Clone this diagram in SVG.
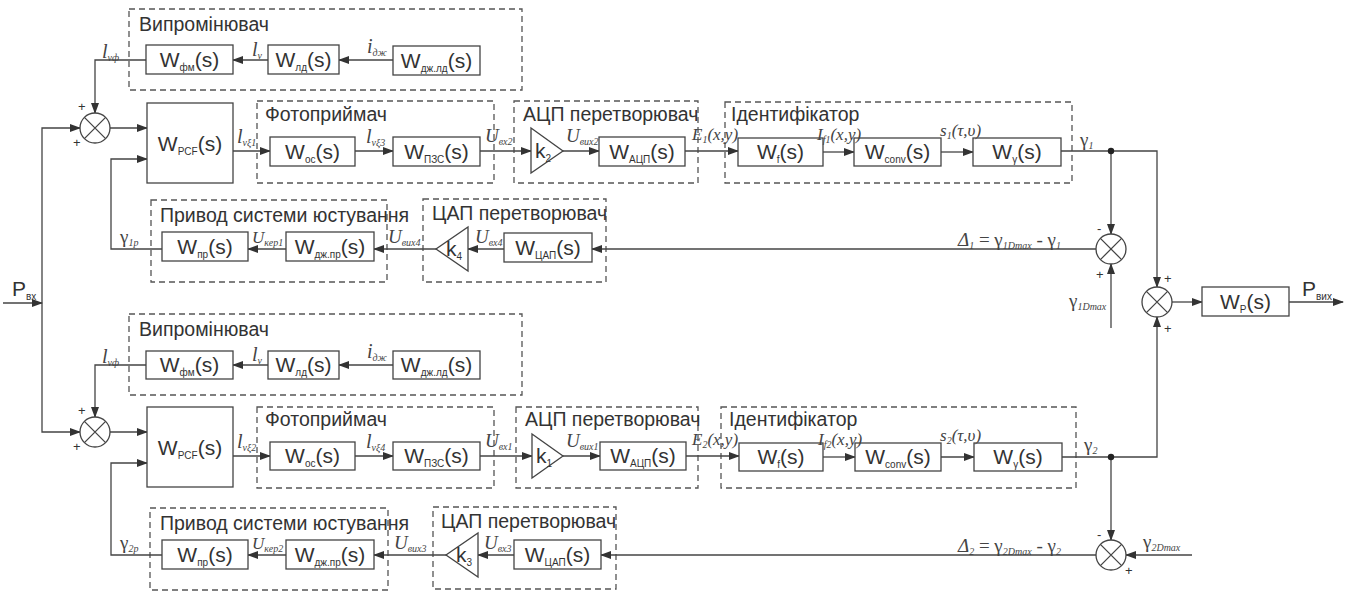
<svg xmlns="http://www.w3.org/2000/svg" width="1355" height="592" viewBox="0 0 1355 592">
<style>
.box{fill:#fff;stroke:#444;stroke-width:1.3}
.grp{fill:none;stroke:#555;stroke-width:1.3;stroke-dasharray:6 4}
.ln{fill:none;stroke:#444;stroke-width:1.3}
.ar{marker-end:url(#ah)}
.t{font-family:"Liberation Sans",Arial,sans-serif;font-size:21px;fill:#333}
.ti{font-family:"Liberation Sans",Arial,sans-serif;font-size:19.5px;fill:#333}
.s{font-size:10px}
.sig{font-family:"Liberation Serif","Times New Roman",serif;font-style:italic;font-size:17px;fill:#444}
.big{font-size:20px}
.mid{font-size:19px}
.up{font-style:normal}
.ss{font-size:10px}
.pm{font-family:"Liberation Sans",Arial,sans-serif;font-size:13px;fill:#333}
.tri{fill:#fff;stroke:#444;stroke-width:1.3}
</style>
<defs>
<marker id="ah" markerWidth="11" markerHeight="8" refX="10" refY="4" orient="auto" markerUnits="userSpaceOnUse"><path d="M0,0 L11,4 L0,8 z" fill="#333"/></marker>
<g id="sum"><circle r="15" fill="#fff" stroke="#444" stroke-width="1.3"/><path d="M-10.6,-10.6 L10.6,10.6 M-10.6,10.6 L10.6,-10.6" stroke="#444" stroke-width="1.3"/></g>
</defs>

<!-- ===== groups (dashed) ===== -->
<g id="g-emitter1"><rect class="grp" x="129" y="9" width="393" height="81"/><text class="ti" x="139" y="31">Випромінювач</text></g>
<g id="g-photo1"><rect class="grp" x="257" y="101" width="237" height="82"/><text class="ti" x="265" y="121">Фотоприймач</text></g>
<g id="g-adc1"><rect class="grp" x="514" y="101" width="184" height="82"/><text class="ti" x="523" y="121">АЦП перетворювач</text></g>
<g id="g-ident1"><rect class="grp" x="725" y="102" width="347" height="81"/><text class="ti" x="731" y="121">Ідентифікатор</text></g>
<g id="g-dac1"><rect class="grp" x="423" y="199" width="183" height="83"/><text class="ti" x="432" y="220">ЦАП перетворювач</text></g>
<g id="g-drive1"><rect class="grp" x="151" y="200" width="236" height="82"/><text class="ti" x="160" y="222">Привод системи юстування</text></g>

<g id="g-emitter2"><rect class="grp" x="129" y="314" width="393" height="81"/><text class="ti" x="139" y="336">Випромінювач</text></g>
<g id="g-photo2"><rect class="grp" x="257" y="407" width="237" height="81"/><text class="ti" x="265" y="426">Фотоприймач</text></g>
<g id="g-adc2"><rect class="grp" x="516" y="407" width="182" height="81"/><text class="ti" x="525" y="426">АЦП перетворювач</text></g>
<g id="g-ident2"><rect class="grp" x="721" y="407" width="355" height="81"/><text class="ti" x="729" y="426">Ідентифікатор</text></g>
<g id="g-dac2"><rect class="grp" x="433" y="507" width="183" height="82"/><text class="ti" x="441" y="528">ЦАП перетворювач</text></g>
<g id="g-drive2"><rect class="grp" x="150" y="508" width="238" height="82"/><text class="ti" x="160" y="530">Привод системи юстування</text></g>

<!-- ===== connectors ===== -->
<g id="connectors">
<path class="ln ar" d="M393,60 H339"/>
<path class="ln ar" d="M268,60 H233"/>
<path class="ln ar" d="M146,60 H95 V113"/>
<path class="ln ar" d="M3,303 H42"/>
<path class="ln ar" d="M42,303 V128 H80"/>
<path class="ln ar" d="M42,303 V432 H80"/>
<path class="ln ar" d="M110,128 H147"/>
<path class="ln ar" d="M233,151 H270"/>
<path class="ln ar" d="M355,151 H393"/>
<path class="ln ar" d="M480,151 H531"/>
<path class="ln ar" d="M563,151 H599"/>
<path class="ln ar" d="M685,151 H738"/>
<path class="ln ar" d="M823,152 H854"/>
<path class="ln ar" d="M941,152 H973"/>
<path class="ln ar" d="M1061,151 H1157 V287"/>
<path class="ln ar" d="M1111,151 V234"/>
<path class="ln ar" d="M1111,328 V264"/>
<path class="ln ar" d="M1096,249 H592"/>
<path class="ln ar" d="M504,249 H468"/>
<path class="ln ar" d="M436,249 H374"/>
<path class="ln ar" d="M286,249 H248"/>
<path class="ln ar" d="M162,249 H111 V159 H147"/>
<path class="ln ar" d="M1172,302 H1202"/>
<path class="ln ar" d="M1289,302 H1343"/>
<circle cx="1111" cy="151" r="3.2" fill="#222"/>
<path class="ln ar" d="M393,365 H339"/>
<path class="ln ar" d="M268,365 H233"/>
<path class="ln ar" d="M146,365 H95 V417"/>
<path class="ln ar" d="M110,432 H147"/>
<path class="ln ar" d="M233,456 H270"/>
<path class="ln ar" d="M355,456 H393"/>
<path class="ln ar" d="M480,456 H532"/>
<path class="ln ar" d="M563,456 H600"/>
<path class="ln ar" d="M686,456 H739"/>
<path class="ln ar" d="M823,457 H855"/>
<path class="ln ar" d="M941,457 H974"/>
<path class="ln ar" d="M1062,457 H1157 V317"/>
<path class="ln ar" d="M1111,457 V540"/>
<path class="ln ar" d="M1192,555 H1126"/>
<path class="ln ar" d="M1096,555 H601"/>
<path class="ln ar" d="M514,555 H478"/>
<path class="ln ar" d="M446,555 H374"/>
<path class="ln ar" d="M286,555 H248"/>
<path class="ln ar" d="M162,555 H111 V463 H147"/>
<circle cx="1111" cy="457" r="3.2" fill="#222"/>
</g>

<!-- ===== summing junctions ===== -->
<g id="sum1"><use href="#sum" x="95" y="128"/><text class="pm" x="78" y="111">+</text><text class="pm" x="73" y="147">+</text></g>
<g id="sum2"><use href="#sum" x="95" y="432"/><text class="pm" x="78" y="415">+</text><text class="pm" x="73" y="451">+</text></g>
<g id="sumD1"><use href="#sum" x="1111" y="249"/><text class="pm" x="1097" y="233">-</text><text class="pm" x="1096" y="279">+</text></g>
<g id="sumD2"><use href="#sum" x="1111" y="555"/><text class="pm" x="1097" y="539">-</text><text class="pm" x="1125" y="575">+</text></g>
<g id="sumOut"><use href="#sum" x="1157" y="302"/><text class="pm" x="1164" y="283">+</text><text class="pm" x="1164" y="333">+</text></g>

<!-- ===== blocks top ===== -->
<g id="b-fm1"><rect class="box" x="146" y="45" width="87" height="29"/><text class="t" x="189.5" y="67" text-anchor="middle">W<tspan class="s" dy="4">фм</tspan><tspan dy="-4">(s)</tspan></text></g>
<g id="b-ld1"><rect class="box" x="268" y="45" width="71" height="29"/><text class="t" x="303.5" y="67" text-anchor="middle">W<tspan class="s" dy="4">лд</tspan><tspan dy="-4">(s)</tspan></text></g>
<g id="b-djld1"><rect class="box" x="393" y="46" width="87" height="29"/><text class="t" x="436.5" y="68" text-anchor="middle">W<tspan class="s" dy="4">дж.лд</tspan><tspan dy="-4">(s)</tspan></text></g>
<g id="b-pcf1"><rect class="box" x="147" y="103" width="86" height="80"/><text class="t" x="190" y="151" text-anchor="middle">W<tspan class="s" dy="4">PCF</tspan><tspan dy="-4">(s)</tspan></text></g>
<g id="b-os1"><rect class="box" x="270" y="137" width="85" height="29"/><text class="t" x="312.5" y="159" text-anchor="middle">W<tspan class="s" dy="4">ос</tspan><tspan dy="-4">(s)</tspan></text></g>
<g id="b-pzs1"><rect class="box" x="393" y="137" width="87" height="29"/><text class="t" x="436.5" y="159" text-anchor="middle">W<tspan class="s" dy="4">ПЗС</tspan><tspan dy="-4">(s)</tspan></text></g>
<g id="b-k2"><path class="tri" d="M531,128 L531,173 L563,151 z"/><text class="t" x="535" y="158">k<tspan class="s" dy="4">2</tspan></text></g>
<g id="b-adc1"><rect class="box" x="599" y="137" width="86" height="29"/><text class="t" x="642" y="159" text-anchor="middle">W<tspan class="s" dy="4">АЦП</tspan><tspan dy="-4">(s)</tspan></text></g>
<g id="b-f1"><rect class="box" x="738" y="138" width="85" height="28"/><text class="t" x="780.5" y="159" text-anchor="middle">W<tspan class="s" dy="4">f</tspan><tspan dy="-4">(s)</tspan></text></g>
<g id="b-conv1"><rect class="box" x="854" y="138" width="87" height="28"/><text class="t" x="897.5" y="159" text-anchor="middle">W<tspan class="s" dy="4">conv</tspan><tspan dy="-4">(s)</tspan></text></g>
<g id="b-g1"><rect class="box" x="973" y="138" width="88" height="28"/><text class="t" x="1017" y="159" text-anchor="middle">W<tspan class="s" dy="4">γ</tspan><tspan dy="-4">(s)</tspan></text></g>
<g id="b-dac1"><rect class="box" x="504" y="233" width="88" height="29"/><text class="t" x="548" y="255" text-anchor="middle">W<tspan class="s" dy="4">ЦАП</tspan><tspan dy="-4">(s)</tspan></text></g>
<g id="b-k4"><path class="tri" d="M468,227 L468,271 L436,249 z"/><text class="t" x="446" y="256">k<tspan class="s" dy="4">4</tspan></text></g>
<g id="b-djpr1"><rect class="box" x="286" y="232" width="88" height="29"/><text class="t" x="330" y="254" text-anchor="middle">W<tspan class="s" dy="4">дж.пр</tspan><tspan dy="-4">(s)</tspan></text></g>
<g id="b-pr1"><rect class="box" x="162" y="232" width="86" height="29"/><text class="t" x="205" y="254" text-anchor="middle">W<tspan class="s" dy="4">пр</tspan><tspan dy="-4">(s)</tspan></text></g>
<g id="b-p"><rect class="box" x="1202" y="287" width="87" height="29"/><text class="t" x="1245.5" y="309" text-anchor="middle">W<tspan class="s" dy="4">P</tspan><tspan dy="-4">(s)</tspan></text></g>

<!-- ===== blocks bottom ===== -->
<g id="b-fm2"><rect class="box" x="146" y="351" width="87" height="28"/><text class="t" x="189.5" y="372" text-anchor="middle">W<tspan class="s" dy="4">фм</tspan><tspan dy="-4">(s)</tspan></text></g>
<g id="b-ld2"><rect class="box" x="268" y="351" width="71" height="28"/><text class="t" x="303.5" y="372" text-anchor="middle">W<tspan class="s" dy="4">лд</tspan><tspan dy="-4">(s)</tspan></text></g>
<g id="b-djld2"><rect class="box" x="393" y="351" width="87" height="28"/><text class="t" x="436.5" y="372" text-anchor="middle">W<tspan class="s" dy="4">дж.лд</tspan><tspan dy="-4">(s)</tspan></text></g>
<g id="b-pcf2"><rect class="box" x="147" y="407" width="86" height="80"/><text class="t" x="190" y="455" text-anchor="middle">W<tspan class="s" dy="4">PCF</tspan><tspan dy="-4">(s)</tspan></text></g>
<g id="b-os2"><rect class="box" x="270" y="442" width="85" height="28"/><text class="t" x="312.5" y="463" text-anchor="middle">W<tspan class="s" dy="4">ос</tspan><tspan dy="-4">(s)</tspan></text></g>
<g id="b-pzs2"><rect class="box" x="393" y="442" width="87" height="28"/><text class="t" x="436.5" y="463" text-anchor="middle">W<tspan class="s" dy="4">ПЗС</tspan><tspan dy="-4">(s)</tspan></text></g>
<g id="b-k1"><path class="tri" d="M532,434 L532,478 L563,456 z"/><text class="t" x="536" y="463">k<tspan class="s" dy="4">1</tspan></text></g>
<g id="b-adc2"><rect class="box" x="600" y="442" width="86" height="28"/><text class="t" x="643" y="463" text-anchor="middle">W<tspan class="s" dy="4">АЦП</tspan><tspan dy="-4">(s)</tspan></text></g>
<g id="b-f2"><rect class="box" x="739" y="443" width="84" height="28"/><text class="t" x="781" y="464" text-anchor="middle">W<tspan class="s" dy="4">f</tspan><tspan dy="-4">(s)</tspan></text></g>
<g id="b-conv2"><rect class="box" x="855" y="443" width="86" height="28"/><text class="t" x="898" y="464" text-anchor="middle">W<tspan class="s" dy="4">conv</tspan><tspan dy="-4">(s)</tspan></text></g>
<g id="b-g2"><rect class="box" x="974" y="443" width="88" height="28"/><text class="t" x="1018" y="464" text-anchor="middle">W<tspan class="s" dy="4">γ</tspan><tspan dy="-4">(s)</tspan></text></g>
<g id="b-dac2"><rect class="box" x="514" y="540" width="87" height="29"/><text class="t" x="557.5" y="562" text-anchor="middle">W<tspan class="s" dy="4">ЦАП</tspan><tspan dy="-4">(s)</tspan></text></g>
<g id="b-k3"><path class="tri" d="M478,533 L478,577 L446,555 z"/><text class="t" x="456" y="562">k<tspan class="s" dy="4">3</tspan></text></g>
<g id="b-djpr2"><rect class="box" x="286" y="540" width="88" height="29"/><text class="t" x="330" y="562" text-anchor="middle">W<tspan class="s" dy="4">дж.пр</tspan><tspan dy="-4">(s)</tspan></text></g>
<g id="b-pr2"><rect class="box" x="162" y="540" width="86" height="29"/><text class="t" x="205" y="562" text-anchor="middle">W<tspan class="s" dy="4">пр</tspan><tspan dy="-4">(s)</tspan></text></g>

<!-- ===== signal labels ===== -->
<g id="labels">
<text class="t" x="12" y="296">P<tspan class="s" dy="4">вх</tspan></text>
<text class="t" x="1302" y="296">P<tspan class="s" dy="4">вих</tspan></text>
<text class="sig big" x="102" y="58">l<tspan class="ss" dy="3">vф</tspan></text>
<text class="sig big" x="252" y="56">l<tspan class="ss" dy="3">v</tspan></text>
<text class="sig big" x="367" y="53">i<tspan class="ss" dy="3">дж</tspan></text>
<text class="sig big" x="237" y="143">l<tspan class="ss" dy="3">vξ1</tspan></text>
<text class="sig big" x="366" y="143">l<tspan class="ss" dy="3">vξ3</tspan></text>
<text class="sig mid" x="485" y="142">U<tspan class="ss" dy="3">вх2</tspan></text>
<text class="sig mid" x="566" y="142">U<tspan class="ss" dy="3">вих2</tspan></text>
<text class="sig" x="692" y="140">E<tspan class="ss" dy="3">1</tspan><tspan dy="-3">(x,y)</tspan></text>
<text class="sig" x="817" y="140">I<tspan class="ss" dy="3">f1</tspan><tspan dy="-3">(x,y)</tspan></text>
<text class="sig" x="940" y="136">s<tspan class="ss" dy="3">1</tspan><tspan dy="-3">(τ,υ)</tspan></text>
<text class="sig mid" x="1080" y="146"><tspan class="up">γ</tspan><tspan class="ss" dy="3">1</tspan></text>
<text class="sig mid" x="958" y="246">Δ<tspan class="ss" dy="3">1</tspan><tspan class="up" dy="-3"> = γ</tspan><tspan class="ss" dy="3">1Dmax</tspan><tspan class="up" dy="-3"> - γ</tspan><tspan class="ss" dy="3">1</tspan></text>
<text class="sig mid" x="1069" y="307"><tspan class="up">γ</tspan><tspan class="ss" dy="3">1Dmax</tspan></text>
<text class="sig mid" x="475" y="243">U<tspan class="ss" dy="3">вх4</tspan></text>
<text class="sig mid" x="388" y="243">U<tspan class="ss" dy="3">вих4</tspan></text>
<text class="sig" x="252" y="243">U<tspan class="ss" dy="3">кер1</tspan></text>
<text class="sig mid" x="120" y="243"><tspan class="up">γ</tspan><tspan class="ss" dy="3">1p</tspan></text>

<text class="sig big" x="102" y="363">l<tspan class="ss" dy="3">vф</tspan></text>
<text class="sig big" x="252" y="361">l<tspan class="ss" dy="3">v</tspan></text>
<text class="sig big" x="367" y="358">i<tspan class="ss" dy="3">дж</tspan></text>
<text class="sig big" x="237" y="448">l<tspan class="ss" dy="3">vξ2</tspan></text>
<text class="sig big" x="366" y="448">l<tspan class="ss" dy="3">vξ4</tspan></text>
<text class="sig mid" x="485" y="447">U<tspan class="ss" dy="3">вх1</tspan></text>
<text class="sig mid" x="566" y="447">U<tspan class="ss" dy="3">вих1</tspan></text>
<text class="sig" x="692" y="445">E<tspan class="ss" dy="3">2</tspan><tspan dy="-3">(x,y)</tspan></text>
<text class="sig" x="818" y="445">I<tspan class="ss" dy="3">f2</tspan><tspan dy="-3">(x,y)</tspan></text>
<text class="sig" x="940" y="441">s<tspan class="ss" dy="3">2</tspan><tspan dy="-3">(τ,υ)</tspan></text>
<text class="sig mid" x="1084" y="451"><tspan class="up">γ</tspan><tspan class="ss" dy="3">2</tspan></text>
<text class="sig mid" x="958" y="552">Δ<tspan class="ss" dy="3">2</tspan><tspan class="up" dy="-3"> = γ</tspan><tspan class="ss" dy="3">2Dmax</tspan><tspan class="up" dy="-3"> - γ</tspan><tspan class="ss" dy="3">2</tspan></text>
<text class="sig mid" x="1143" y="548"><tspan class="up">γ</tspan><tspan class="ss" dy="3">2Dmax</tspan></text>
<text class="sig mid" x="484" y="549">U<tspan class="ss" dy="3">вх3</tspan></text>
<text class="sig mid" x="394" y="549">U<tspan class="ss" dy="3">вих3</tspan></text>
<text class="sig" x="252" y="549">U<tspan class="ss" dy="3">кер2</tspan></text>
<text class="sig mid" x="120" y="549"><tspan class="up">γ</tspan><tspan class="ss" dy="3">2p</tspan></text>
</g>
</svg>
